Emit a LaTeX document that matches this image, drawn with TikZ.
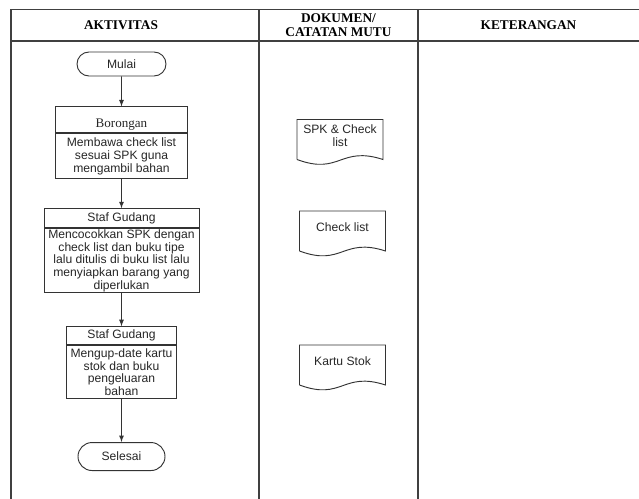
\documentclass[tikz,border=0pt]{standalone}
\usepackage{fontspec}
\setmainfont{Liberation Serif}
\newfontfamily\arialfont{Liberation Sans}
\usetikzlibrary{positioning}
\usetikzlibrary{arrows, shapes, calc}

\begin{document}
\begin{tikzpicture}[x=0.75pt, y=-0.75pt, >=latex, font=\arialfont\fontsize{9.1}{9.5}\selectfont, text=black!85]%

            \tikzstyle{term} = [ rounded rectangle, draw = black!80, line width = 0.7pt, inner sep = 0pt]
            \tikzstyle{hd} = [ rectangle, draw = black!80, line width = 0.7pt, inner sep = 0pt, align = center]
            \tikzstyle{bd} = [ rectangle, draw = black!80, line width = 0.7pt, inner sep = 0pt, align = center]
            \tikzstyle{doc} = [ rectangle, inner sep = 0pt, align = center]
            \tikzstyle{docline} = [ draw = black!80, line width = 0.7pt]
            \tikzstyle{flow} = [ ->, draw = black!80, line width = 0.7pt]
            \tikzstyle{lane} = [ draw = black!75, line width = 1.1pt]
            \tikzstyle{title} = [ font = \rmfamily\bfseries\fontsize{10}{10.5}\selectfont, align = center, text = black]
        %%
            \useasboundingbox (0,0) rectangle (639,499);

            %% Table
            \draw[lane] (11,9.5) -- (639,9.5);
            \draw[lane] (11,41) -- (639,41);
            \foreach \x in {11, 259, 418}
                \draw[lane] (\x,9.5) -- (\x,499);

            \node [title] (hd_akt) at (121,25.5) {AKTIVITAS};
            \node [title] (hd_dok) at (338.5,25.5) {DOKUMEN/\\CATATAN MUTU};
            \node [title] (hd_ket) at (528.5,25.5) {KETERANGAN};

            %% Activities
            \node [term, minimum width = 66.75pt, minimum height = 18pt] (mulai) at (121.5,64) {Mulai};

            \node [hd, minimum width = 99pt, minimum height = 19.5pt, below = 22.5pt of mulai, font = \rmfamily\fontsize{9.8}{10}\selectfont] (act1_hd) {\raisebox{-5.5pt}[0pt][0pt]{Borongan}};
            \node [bd, minimum width = 99pt, minimum height = 33.75pt, below = 0pt of act1_hd] (act1_bd) {Membawa check list\\sesuai SPK guna\\mengambil bahan};

            \node [hd, minimum width = 116.25pt, minimum height = 14.25pt, below = 21.75pt of act1_bd] (act2_hd) {Staf Gudang};
            \node [bd, minimum width = 116.25pt, minimum height = 48pt, below = 0pt of act2_hd] (act2_bd) {Mencocokkan SPK dengan\\check list dan buku tipe\\lalu ditulis di buku list lalu\\menyiapkan barang yang\\diperlukan};

            \node [hd, minimum width = 82.5pt, minimum height = 13.5pt, below = 24.75pt of act2_bd] (act3_hd) {Staf Gudang};
            \node [bd, minimum width = 82.5pt, minimum height = 39.75pt, below = 0pt of act3_hd] (act3_bd) {Mengup-date kartu\\stok dan buku\\pengeluaran\\bahan};

            \node [term, minimum width = 65.25pt, minimum height = 21pt, below = 32.25pt of act3_bd] (selesai) {Selesai};

            \draw[flow] (mulai) -- (act1_hd);
            \draw[flow] (act1_bd) -- (act2_hd);
            \draw[flow] (act2_bd) -- (act3_hd);
            \draw[flow] (act3_bd) -- (selesai);

            %% Documents
            \node [doc] (doc_spk) at (340,135.5) {SPK \& Check\\list};
            \node [doc] (doc_cl) at (342.5,227) {Check list};
            \node [doc] (doc_ks) at (342.5,361) {Kartu Stok};

            \foreach \d in {doc_spk, doc_cl, doc_ks}
                \draw[docline] ($(\d.center)+(-32.25pt,-18pt)$) -- ($(\d.center)+(-32.25pt,12pt)$) -- ($(\d.center)+(32.25pt,12pt)$) -- ($(\d.center)+(32.25pt,-18pt)$) .. controls ($(\d.center)+(0pt,-7.5pt)$) and ($(\d.center)+(0pt,-30pt)$) .. ($(\d.center)+(-32.25pt,-18pt)$);

        \end{tikzpicture}
\end{document}
